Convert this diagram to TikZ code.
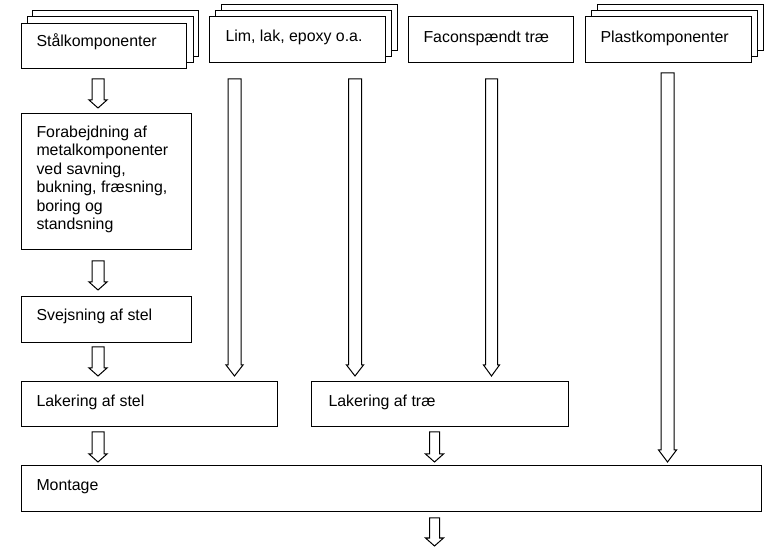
\documentclass[tikz,border=0pt]{standalone}
\usepackage{fontspec}
\setmainfont{Liberation Sans}
\begin{document}
\begin{tikzpicture}[x=1pt,y=-1pt,line width=1pt,
  box/.style={draw=black,fill=white,rectangle,inner sep=0pt,anchor=north west},
  lbl/.style={anchor=base west,inner sep=0pt,font=\fontsize{15.9}{18.5}\selectfont,align=left},
  barrow/.style={draw=black,fill=white,line join=miter}]
\useasboundingbox (0,0) rectangle (772,553);
% x, top, tip, shaft width, head width, head length
\newcommand\blockarr[6]{%
  \draw[barrow] ({#1-#4/2},#2) -- ({#1+#4/2},#2) -- ({#1+#4/2},{#3-#6}) -- ({#1+#5/2},{#3-#6})
    -- (#1,#3) -- ({#1-#5/2},{#3-#6}) -- ({#1-#4/2},{#3-#6}) -- cycle;}
% Stalkomponenter stack
\node[box,minimum width=166pt,minimum height=46pt] (stal3) at (32,10) {};
\node[box,minimum width=166pt,minimum height=46pt] (stal2) at (26.5,16.5) {};
\node[box,minimum width=165pt,minimum height=45pt] (stal) at (21,23) {};
\node[lbl] (tstal) at (36,47) {Stålkomponenter};
% Lim stack
\node[box,minimum width=176pt,minimum height=46pt] (lim3) at (221,4) {};
\node[box,minimum width=176pt,minimum height=46pt] (lim2) at (215,10) {};
\node[box,minimum width=176pt,minimum height=46pt] (lim) at (209,16) {};
\node[lbl] (tlim) at (225,42) {Lim, lak, epoxy o.a.};
% Facon
\node[box,minimum width=165pt,minimum height=45.5pt] (facon) at (408,16.5) {};
\node[lbl] (tfacon) at (423,43) {Faconspændt træ};
% Plast stack
\node[box,minimum width=166pt,minimum height=46pt] (plast3) at (597,4) {};
\node[box,minimum width=166pt,minimum height=46pt] (plast2) at (591,10) {};
\node[box,minimum width=166pt,minimum height=46pt] (plast) at (585,16) {};
\node[lbl] (tplast) at (600,43) {Plastkomponenter};
% Forabejdning
\node[box,minimum width=170pt,minimum height=136pt] (forab) at (21,113) {};
\node[anchor=north west,inner sep=0pt,font=\fontsize{15.9}{18.5}\selectfont,align=left] (tforab) at (36,125) {Forabejdning af\\metalkomponenter\\ved savning,\\bukning, fræsning,\\boring og\\standsning};
% Svejsning
\node[box,minimum width=170pt,minimum height=46pt] (svejs) at (21,296) {};
\node[lbl] (tsvejs) at (36,321) {Svejsning af stel};
% Lakering af stel
\node[box,minimum width=256pt,minimum height=45pt] (lakstel) at (21,381) {};
\node[lbl] (tlakstel) at (36,407) {Lakering af stel};
% Lakering af trae
\node[box,minimum width=257pt,minimum height=45pt] (laktrae) at (311,381) {};
\node[lbl] (tlaktrae) at (328,407) {Lakering af træ};
% Montage
\node[box,minimum width=740pt,minimum height=46pt] (montage) at (21,465) {};
\node[lbl] (tmontage) at (36,491) {Montage};
% arrows left column
\blockarr{98}{79}{108}{12}{18}{8}
\blockarr{98}{261}{290}{12}{18}{8}
\blockarr{98}{347}{376}{12}{18}{8}
\blockarr{98}{432}{462}{12}{18}{8}
% long arrows
\blockarr{234.5}{79}{376}{13}{17}{11}
\blockarr{355}{79}{376}{13}{17}{11}
\blockarr{491.5}{79}{376}{12}{16}{11}
\blockarr{667.5}{73}{462}{13}{18}{12}
% centre column
\blockarr{434.5}{432}{462}{10}{18}{8}
\blockarr{434.5}{518}{546}{10}{18}{8}
\end{tikzpicture}
\end{document}
